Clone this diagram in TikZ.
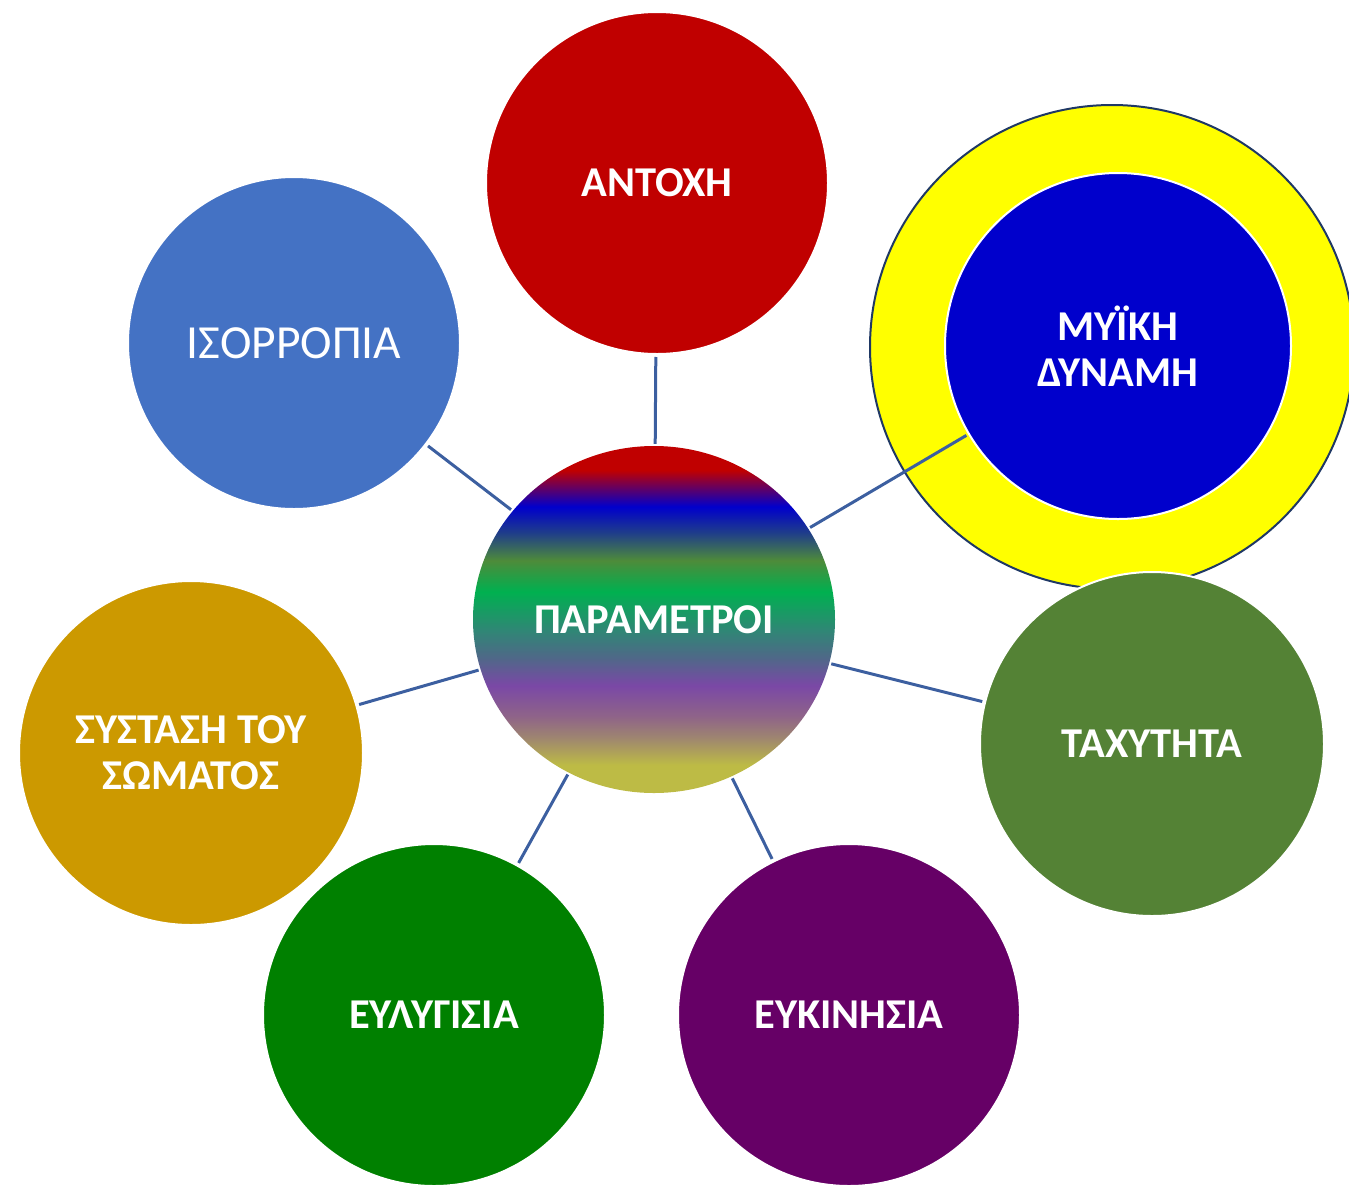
\documentclass[tikz,border=0pt]{standalone}
\usepackage{fontspec}
\setmainfont{Carlito}
\usetikzlibrary{shapes.geometric}
\definecolor{cRed}{HTML}{C00000}
\definecolor{cBlue}{HTML}{0000CC}
\definecolor{cYellow}{HTML}{FFFF00}
\definecolor{cNavy}{HTML}{1F3864}
\definecolor{cIso}{HTML}{4472C4}
\definecolor{cTax}{HTML}{548235}
\definecolor{cEyk}{HTML}{660066}
\definecolor{cEyl}{HTML}{008000}
\definecolor{cSys}{HTML}{CC9900}
\definecolor{cLine}{HTML}{3C5FA0}
% gradient colours of the centre
\definecolor{gRed}{HTML}{C00000}
\definecolor{gBlue}{HTML}{0000CC}
\definecolor{gNavy}{HTML}{1F3D8A}
\definecolor{gOlive}{HTML}{4E8B3A}
\definecolor{gGreen}{HTML}{00B050}
\definecolor{gTeal}{HTML}{2F8775}
\definecolor{gSlate}{HTML}{4F6888}
\definecolor{gPurple}{HTML}{7A48A6}
\definecolor{gMauve}{HTML}{8F6488}
\definecolor{gTan}{HTML}{9E8570}
\definecolor{gYel}{HTML}{BDBB45}
\pgfdeclareverticalshading{paramshade}{100bp}{%
  color(0bp)=(gYel); color(25bp)=(gYel); color(29bp)=(gYel);
  color(33bp)=(gTan); color(36bp)=(gMauve); color(40.5bp)=(gPurple);
  color(44.5bp)=(gSlate); color(48.5bp)=(gTeal); color(54bp)=(gGreen);
  color(58.5bp)=(gOlive); color(62.5bp)=(gNavy); color(66.25bp)=(gBlue);
  color(71.5bp)=(gRed); color(75bp)=(gRed); color(100bp)=(gRed)}
\pgfdeclarelayer{ringlayer}
\pgfdeclarelayer{linelayer}
\pgfsetlayers{ringlayer,linelayer,main}
\tikzset{
  bubble/.style={circle, inner sep=0pt, draw=white, line width=2pt,
    text=white, align=center,
    font=\fontsize{42.5}{46}\selectfont\bfseries},
  conn/.style={draw=cLine, line width=3pt, shorten <=2pt, shorten >=2pt},
}
\begin{document}
\begin{tikzpicture}[x=1pt,y=-1pt]
\useasboundingbox (0,0) rectangle (1349,1187);
% centre
\node[ellipse, inner sep=0pt, minimum width=362pt, minimum height=347pt,
      shade, shading=paramshade, text=white,
      font=\fontsize{42.5}{46}\selectfont\bfseries] (center) at (654,619.5) {ΠΑΡΑΜΕΤΡΟΙ};
% satellites
\node[bubble, fill=cRed, minimum size=342pt] (antoxi) at (657,183) {ΑΝΤΟΧΗ};
\node[bubble, fill=cIso, minimum size=332pt,
      font=\fontsize{47.5}{52}\selectfont] (isorropia) at (294,343) {ΙΣΟΡΡΟΠΙΑ};
\node[bubble, fill=cBlue, minimum size=346pt] (myiki) at (1118,346) {ΜΥΪΚΗ\\ΔΥΝΑΜΗ};
\node[bubble, fill=cTax, minimum size=344pt] (taxytita) at (1152,744) {ΤΑΧΥΤΗΤΑ};
\node[bubble, fill=cEyk, minimum size=342pt] (eykinisia) at (849,1015) {ΕΥΚΙΝΗΣΙΑ};
\node[bubble, fill=cEyl, minimum size=342pt] (eylygisia) at (434,1015) {ΕΥΛΥΓΙΣΙΑ};
\node[bubble, fill=cSys, minimum size=344pt] (systasi) at (191,753) {ΣΥΣΤΑΣΗ ΤΟΥ\\ΣΩΜΑΤΟΣ};
% ring around ΜΥΪΚΗ ΔΥΝΑΜΗ
\begin{pgfonlayer}{ringlayer}
  \node[circle, inner sep=0pt, minimum size=484pt, fill=cYellow, draw=cNavy,
        line width=2pt] (ring) at (1112,347) {};
\end{pgfonlayer}
% connectors
\begin{pgfonlayer}{linelayer}
  \draw[conn] (center) -- (antoxi);
  \draw[conn] (center) -- (isorropia);
  \draw[conn] (center) -- (myiki);
  \draw[conn] (center) -- (taxytita);
  \draw[conn] (center) -- (eykinisia);
  \draw[conn] (center) -- (eylygisia);
  \draw[conn] (center) -- (systasi);
\end{pgfonlayer}
\end{tikzpicture}
\end{document}
